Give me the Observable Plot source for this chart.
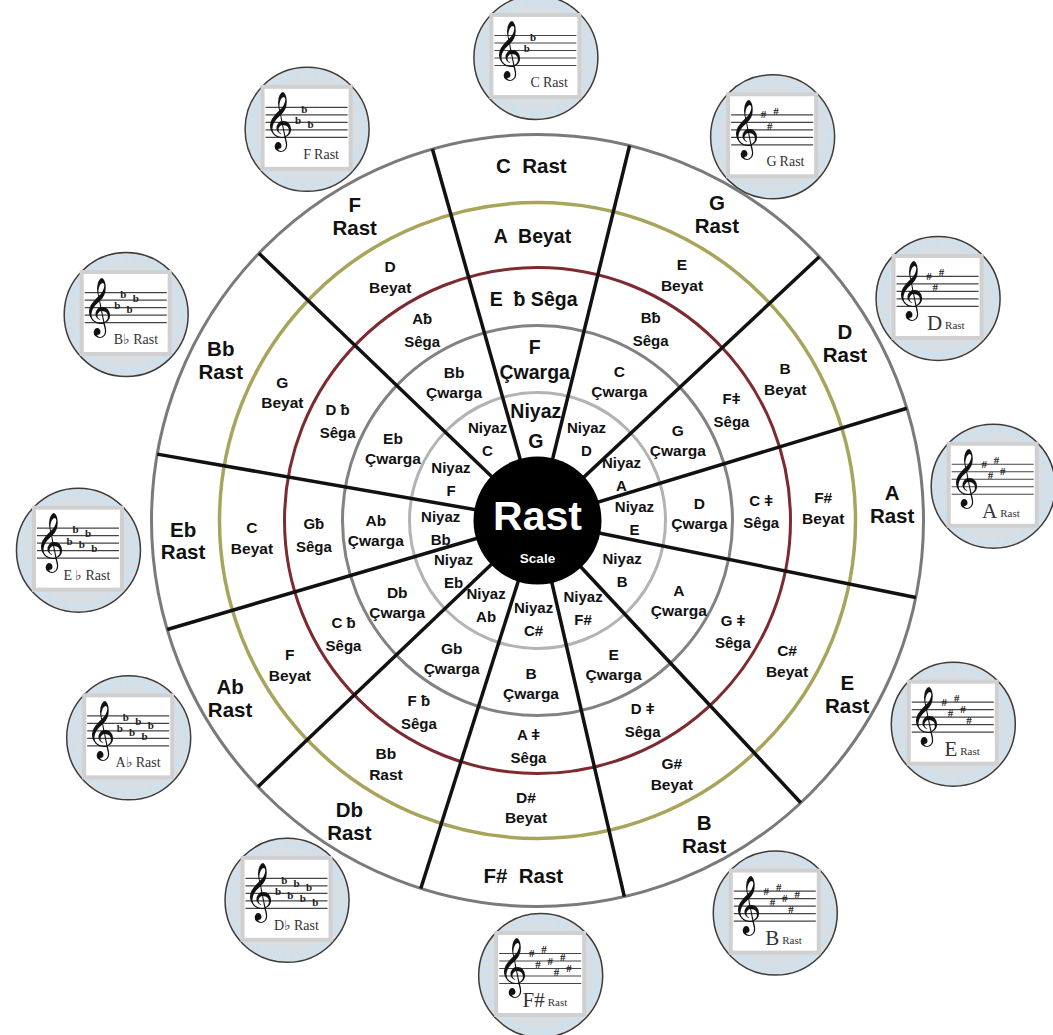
<!DOCTYPE html>
<html>
<head>
<meta charset="utf-8">
<script src="https://cdn.jsdelivr.net/npm/d3@7"></script>
<script src="https://cdn.jsdelivr.net/npm/@observablehq/plot@0.6"></script>
<style>
  html, body { margin: 0; padding: 0; background: #fff; }
  #chart svg { display: block; }
</style>
</head>
<body>
<div id="chart"></div>
<script>
// ---------- data ----------
const keys = ["C", "G", "D", "A", "E", "B", "F#", "Db", "Ab", "Eb", "Bb", "F"];
// angle (degrees, clockwise from top) of the spoke that opens each key's sector
const spokeAngles = [-15.8, 13.8, 46.9, 73.1, 101.5, 137, 167, 197.6, 226.4, 253.6, 279.9, 313.8];
// direction (degrees) and distance from the wheel centre of each key's staff medallion
const medAngle = [359.8, 31.5, 61, 85.7, 116.1, 148.8, 179.6, 213.4, 242, 266.3, 296.6, 329.5];
const medDist  = [463, 450, 458, 457, 463, 459, 455, 455, 463, 460, 460, 454];

const rastRing   = ["C Rast", "G Rast", "D Rast", "A Rast", "E Rast", "B Rast", "F# Rast", "Db Rast", "Ab Rast", "Eb Rast", "Bb Rast", "F Rast"];
const beyatRing  = ["A Beyat", "E Beyat", "B Beyat", "F# Beyat", "C# Beyat", "G# Beyat", "D# Beyat", "Bb Rast", "F Beyat", "C Beyat", "G Beyat", "D Beyat"];
const segaRing   = ["E ƀ Sêga", "Bƀ Sêga", "Fǂ Sêga", "C ǂ Sêga", "G ǂ Sêga", "D ǂ Sêga", "A ǂ Sêga", "F ƀ Sêga", "C ƀ Sêga", "Gƀ Sêga", "D ƀ Sêga", "Aƀ Sêga"];
const cwargaRing = ["F Çwarga", "C Çwarga", "G Çwarga", "D Çwarga", "A Çwarga", "E Çwarga", "B Çwarga", "Gb Çwarga", "Db Çwarga", "Ab Çwarga", "Eb Çwarga", "Bb Çwarga"];
const niyazRing  = ["Niyaz G", "Niyaz D", "Niyaz A", "Niyaz E", "Niyaz B", "Niyaz F#", "Niyaz C#", "Niyaz Ab", "Niyaz Eb", "Niyaz Bb", "Niyaz F", "Niyaz C"];

const medNotes   = ["C", "G", "D", "A", "E", "B", "F#", "D♭", "A♭", "E ♭", "B♭", "F"];
const accCount   = [2, 3, 3, 4, 5, 6, 7, 7, 6, 5, 4, 3];
const accSign    = ["b", "#", "#", "#", "#", "#", "#", "b", "b", "b", "b", "b"];

const centerTitle = "Rast";
const centerSub = "Scale";

// ---------- layout ----------
const W = 1053, H = 1035, CX = 537, CY = 520;
const R_OUT = 386, R_OLIVE = 318, R_RED = 253, R_GRAY = 195, R_NIYAZ = 128, R_CORE = 64;
const rad = a => a * Math.PI / 180;
const px = (r, a) => r * Math.sin(rad(a));
const py = (r, a) => -r * Math.cos(rad(a));
const mid = keys.map((k, i) => {
  const a0 = spokeAngles[i];
  let a1 = spokeAngles[(i + 1) % 12];
  if (a1 < a0) a1 += 360;
  return (a0 + a1) / 2;
});

const SANS = "Liberation Sans, Arial, Helvetica, sans-serif";
const SERIF = "Liberation Serif, Times New Roman, serif";

const origin = [{x: 0, y: 0}];
const ringCircles = [
  {r: R_OUT, stroke: "#7a7a7a", w: 3},
  {r: R_OLIVE, stroke: "#a9a45c", w: 3.5},
  {r: R_RED, stroke: "#7d2a30", w: 3},
  {r: R_GRAY, stroke: "#828282", w: 3},
  {r: R_NIYAZ, stroke: "#b3b3b3", w: 3}
];

// medallions
const med = keys.map((k, i) => ({i, cx: px(medDist[i], medAngle[i]), cy: py(medDist[i], medAngle[i])}));
const staffOffsets = [-22, -14.5, -7, 0.5, 8];
const staff = med.flatMap(m => staffOffsets.map(o => ({y: m.cy + o, x1: m.cx - 41, x2: m.cx + 41})));
const sharpSteps = [0, 3, -1, 2, 5, 1, 4];
const flatSteps = [4, 1, 5, 2, 6, 3, 7];
const accs = med.flatMap(m => d3.range(accCount[m.i]).map(j => {
  const steps = accSign[m.i] === "#" ? sharpSteps : flatSteps;
  return {x: m.cx - 9 + j * 6.2, y: m.cy - 22 + steps[j] * 3.75 - (accSign[m.i] === "b" ? 2 : 0), s: accSign[m.i]};
}));
const bigLetter = i => i >= 2 && i <= 6;

// ring labels
function ringLabels(labels, r, singleSet) {
  return labels.map((t, i) => ({
    i,
    x: px(r, mid[i]),
    y: py(r, mid[i]),
    text: singleSet.includes(i) ? t.replace(" ", "  ").replace("ƀ  ", "ƀ ") : t.replace(/ (?=\S+$)/, "\n")
  }));
}

const marks = [
  // medallions
  Plot.dot(med, {x: "cx", y: "cy", r: 62, fill: "#d8dfe4", stroke: "#3c3c3c", strokeWidth: 1.5}),
  Plot.dot(med, {x: "cx", y: "cy", r: 56, fill: "none", stroke: "#c6e2f4", strokeWidth: 5, strokeDasharray: "4,5"}),
  Plot.rect(med, {x1: d => d.cx - 44, x2: d => d.cx + 44, y1: d => d.cy - 42, y2: d => d.cy + 40, fill: "white", stroke: "#d0d0d0", strokeWidth: 4}),
  Plot.ruleY(staff, {y: "y", x1: "x1", x2: "x2", stroke: "#444", strokeWidth: 1.2}),
  Plot.text(med, {x: d => d.cx - 28, y: d => d.cy - 8, text: () => "𝄞", fontSize: 50, fontFamily: "DejaVu Sans, Noto Sans, serif", fill: "#111"}),
  Plot.text(accs, {x: "x", y: "y", text: "s", fontSize: 11, fontWeight: "bold", fontFamily: SERIF, fill: "#222"}),
  Plot.text(med, {x: d => d.cx + 4, y: d => d.cy + 25, text: d => medNotes[d.i], textAnchor: "end",
    fontSize: d => bigLetter(d.i) ? 21 : 14, fontFamily: SERIF, fill: "#333"}),
  Plot.text(med, {x: d => d.cx + 7, y: d => d.cy + (bigLetter(d.i) ? 27 : 25), text: () => "Rast", textAnchor: "start",
    fontSize: d => bigLetter(d.i) ? 11 : 14, fontFamily: SERIF, fill: "#333"}),

  // rings
  ...ringCircles.map(c => Plot.dot(origin, {x: "x", y: "y", r: c.r, fill: "none", stroke: c.stroke, strokeWidth: c.w})),

  // spokes
  Plot.link(spokeAngles, {x1: () => 0, y1: () => 0, x2: a => px(R_OUT, a), y2: a => py(R_OUT, a), stroke: "#111", strokeWidth: 3.5}),

  // labels
  Plot.text(ringLabels(rastRing, 355, [0, 6]), {x: "x", y: "y", text: "text", fontSize: 20.5, fontWeight: "bold", fontFamily: SANS, lineHeight: 1.12, fill: "#111"}),
  Plot.text(ringLabels(beyatRing, 286, [0]), {x: "x", y: "y", text: "text", fontSize: d => d.i === 0 ? 19.5 : 15.5, fontWeight: "bold", fontFamily: SANS, lineHeight: 1.35, fill: "#111"}),
  Plot.text(ringLabels(segaRing, 224, [0]), {x: "x", y: "y", text: "text", fontSize: d => d.i === 0 ? 19.5 : 15, fontWeight: "bold", fontFamily: SANS, lineHeight: 1.5, fill: "#111"}),
  Plot.text(ringLabels(cwargaRing, 162, []), {x: "x", y: "y", text: "text", fontSize: d => d.i === 0 ? 19.5 : 15.5, fontWeight: "bold", fontFamily: SANS, lineHeight: 1.3, fill: "#111"}),
  Plot.text(ringLabels(niyazRing, 97, []), {x: "x", y: "y", text: "text", fontSize: d => d.i === 0 ? 19.5 : 15, fontWeight: "bold", fontFamily: SANS, lineHeight: 1.55, fill: "#111"}),

  // center
  Plot.dot(origin, {x: "x", y: "y", r: R_CORE, fill: "#000"}),
  Plot.text(origin, {x: "x", y: () => -4, text: () => centerTitle, fontSize: 41, fontWeight: "bold", fontFamily: SANS, fill: "white"}),
  Plot.text(origin, {x: "x", y: () => 38, text: () => centerSub, fontSize: 13.5, fontWeight: "bold", fontFamily: SANS, fill: "white"})
];

const chart = Plot.plot({
  width: W,
  height: H,
  margin: 0,
  x: {type: "linear", domain: [-CX, W - CX], range: [0, W], axis: null},
  y: {type: "linear", domain: [-CY, H - CY], range: [0, H], axis: null},
  style: {background: "white"},
  marks
});
document.getElementById("chart").appendChild(chart);
</script>
</body>
</html>
